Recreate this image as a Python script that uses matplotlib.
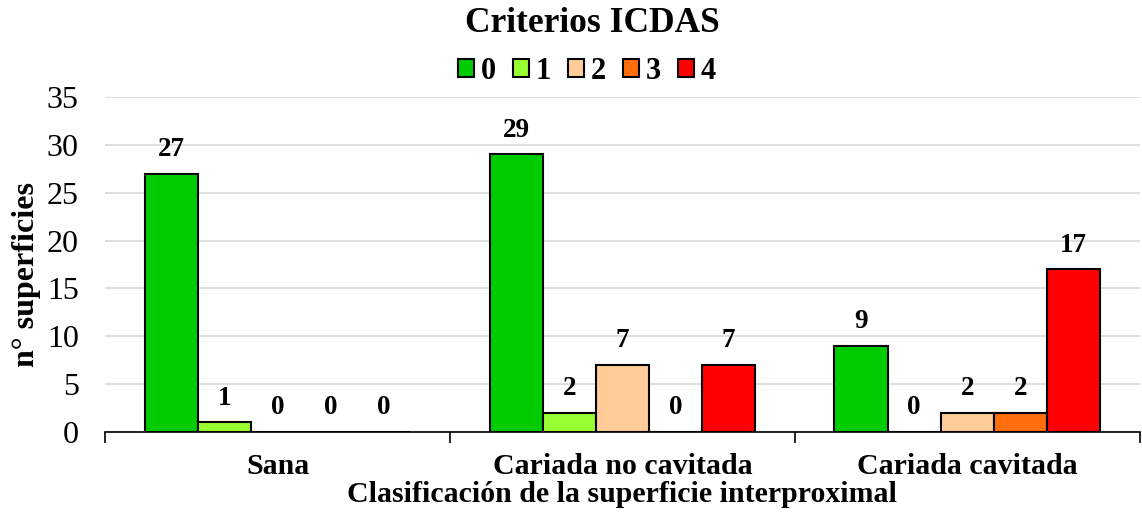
import numpy as np
import matplotlib
matplotlib.use("Agg")
import matplotlib.pyplot as plt
from matplotlib.patches import Patch

plt.rcParams['font.family'] = ['Liberation Serif', 'DejaVu Serif']

categories = ["Sana", "Cariada no cavitada", "Cariada cavitada"]
icdas = ["0", "1", "2", "3", "4"]
values = [
    [27, 29, 9],   # 0
    [1, 2, 0],     # 1
    [0, 7, 2],     # 2
    [0, 0, 2],     # 3
    [0, 7, 17],    # 4
]
bar_colors = ['#00CC00', '#99FF33', '#FFCC99', '#FF6D0D', '#FF0000']

fig = plt.figure(figsize=(11.42, 5.19), dpi=100)
ax = fig.add_axes([0.092, 0.168, 0.906, 0.645])

x = np.arange(len(categories))
width = 0.154
for i, (lab, vals) in enumerate(zip(icdas, values)):
    pos = x + (i - 2) * width
    ax.bar(pos, vals, width, color=bar_colors[i], edgecolor='black', linewidth=1.5,
           label=lab, zorder=3)
    for p, v in zip(pos, vals):
        ax.text(p, v + 1.2, str(v), ha='center', va='bottom', fontsize=19.5,
                fontweight='bold', zorder=4)

ax.set_xlim(-0.5, len(categories) - 0.5)
ax.set_ylim(0, 35)
ax.set_yticks(np.arange(0, 36, 5))
ax.yaxis.grid(True, color='#D9D9D9', linewidth=1.2, zorder=0)
ax.set_axisbelow(True)
for s in ['top', 'right', 'left']:
    ax.spines[s].set_visible(False)
ax.spines['bottom'].set_linewidth(1.2)
ax.tick_params(axis='y', length=0, labelsize=23, pad=19)

ax.set_xticks(x)
ax.set_xticklabels(categories, fontsize=21.5, fontweight='bold')
ax.tick_params(axis='x', length=0, pad=15)
ax.set_xticks(np.arange(-0.5, len(categories)), minor=True)
ax.tick_params(axis='x', which='minor', length=8, width=1.2)

ax.set_xlabel("Clasificación de la superficie interproximal", fontsize=21.5,
              fontweight='bold', labelpad=1)
ax.set_ylabel("n° superficies", fontsize=23, fontweight='bold')
ax.yaxis.set_label_coords(-0.062, 0.47)

fig.text(0.519, 0.954, "Criterios ICDAS", ha='center', va='center', fontsize=25.5,
         fontweight='bold')
handles = [Patch(facecolor=c, edgecolor='black', linewidth=1.5) for c in bar_colors]
fig.legend(handles, icdas, loc='center', bbox_to_anchor=(0.514, 0.862), ncol=5,
           frameon=False, prop={'size': 22, 'weight': 'bold'},
           handlelength=0.52, handleheight=0.52, handletextpad=0.23, columnspacing=0.55)

fig.savefig("out.png", dpi=100)
